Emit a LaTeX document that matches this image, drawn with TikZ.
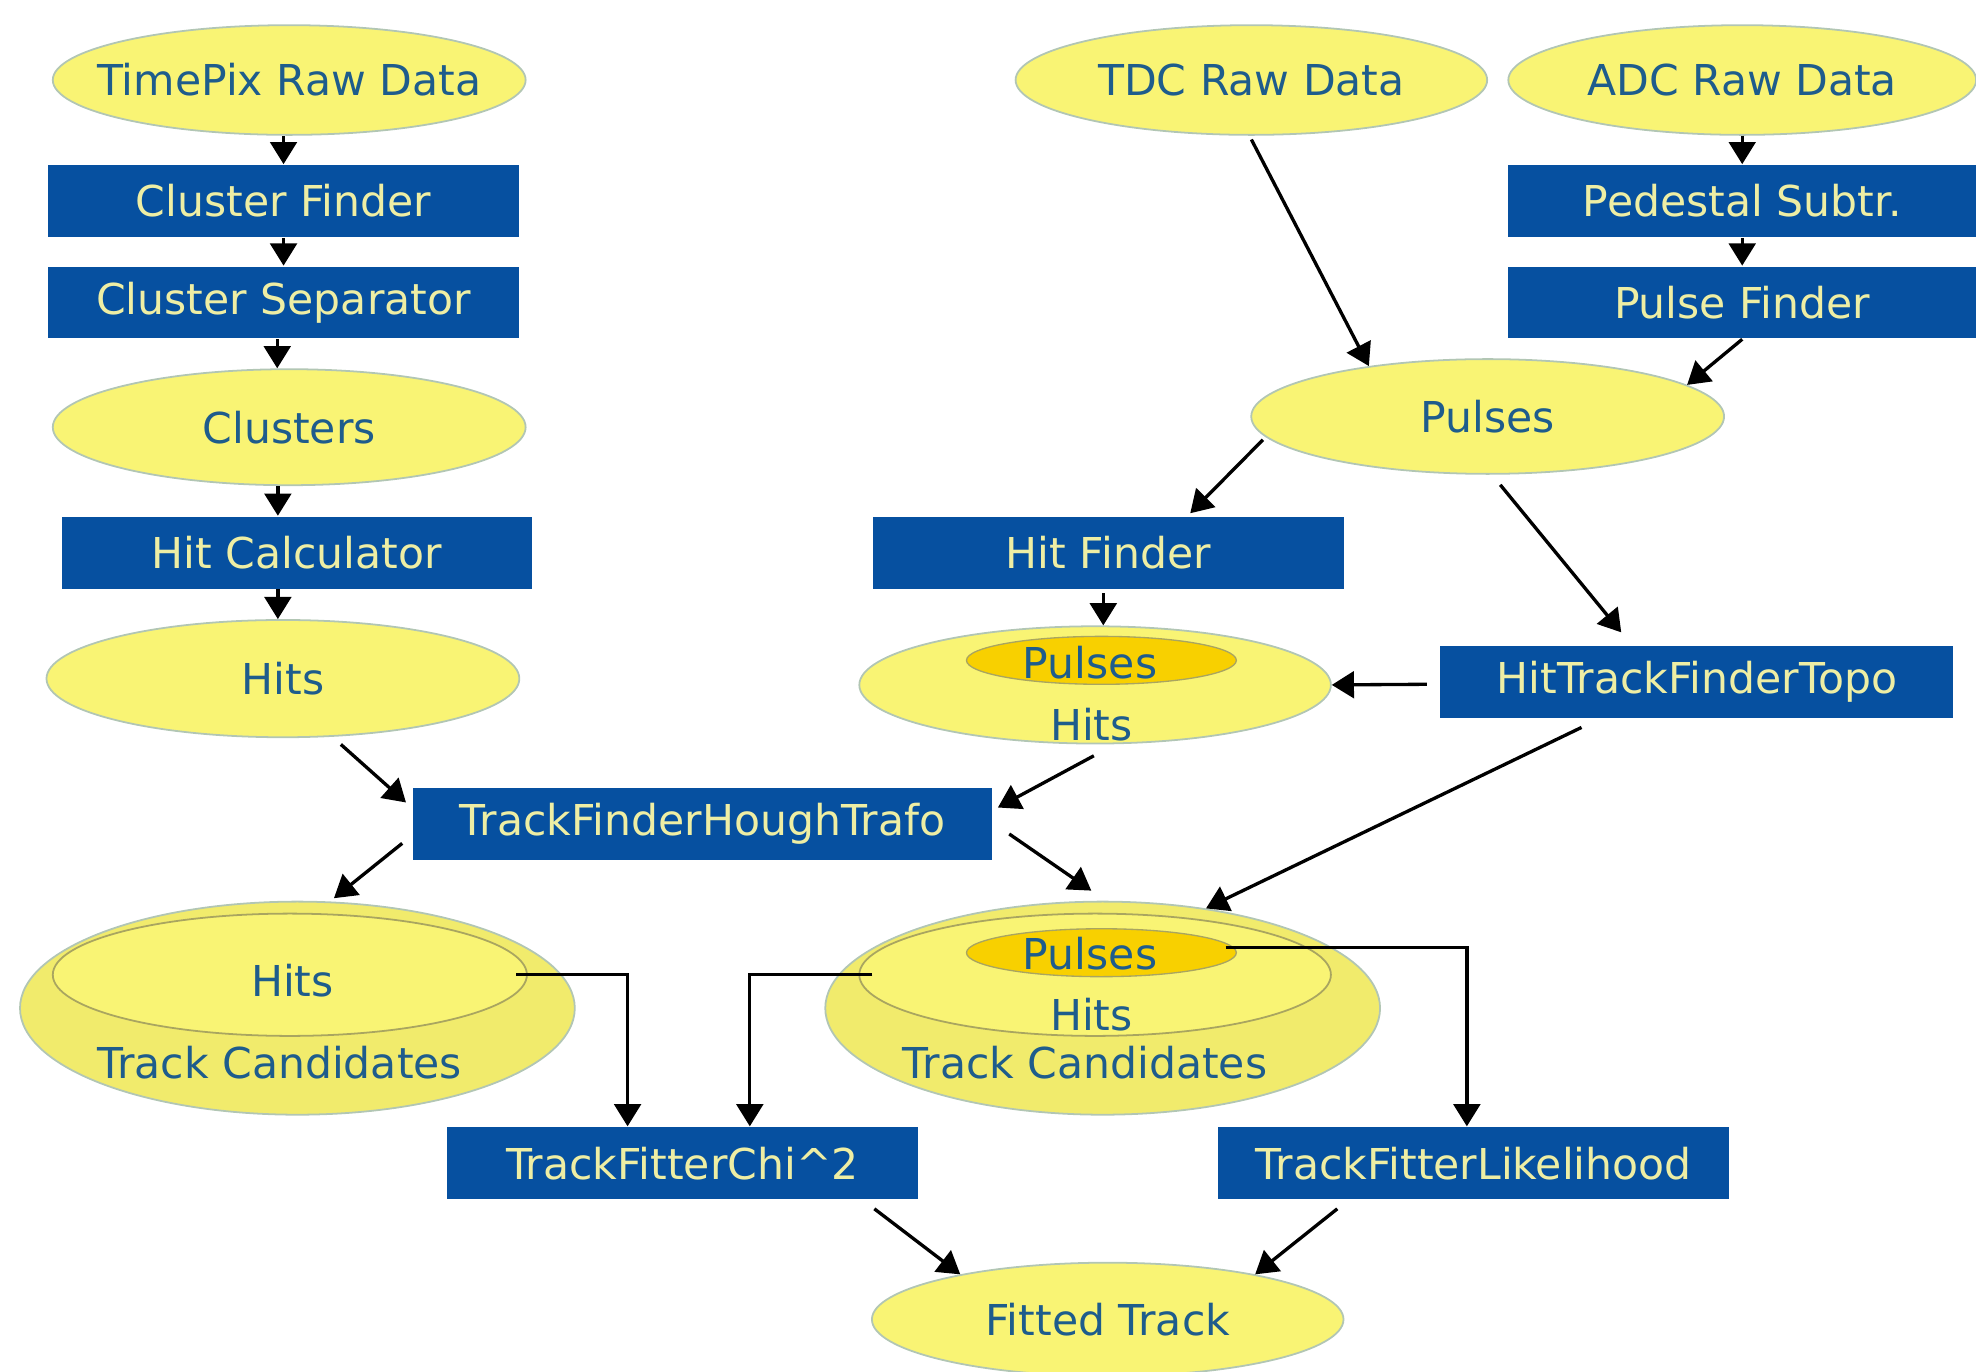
\documentclass[tikz,border=0pt]{standalone}
\usepackage{fontspec}
\setmainfont{DejaVu Sans}
\usetikzlibrary{shapes.geometric,arrows.meta,calc}
\definecolor{boxblue}{HTML}{0650A0}
\definecolor{boxtxt}{HTML}{EEEEA4}
\definecolor{ellfill}{HTML}{F9F474}
\definecolor{elldraw}{HTML}{B2C6B4}
\definecolor{elltxt}{HTML}{1E5C8C}
\definecolor{orangefill}{HTML}{F8D000}
\definecolor{tcfill}{HTML}{F1EB6C}
\definecolor{linegrey}{HTML}{A9A560}
\newcommand{\zw}[1]{\makebox[0pt]{#1}}
\begin{document}
\begin{tikzpicture}[x=0.01cm,y=-0.01cm,
  every node/.style={font=\fontsize{9.6}{11}\selectfont},
  procbox/.style={rectangle, fill=boxblue, text=boxtxt, inner sep=0pt, minimum height=0.57cm},
  ell/.style={ellipse, fill=ellfill, draw=elldraw, line width=0.4pt, text=elltxt, inner sep=0pt},
  tcell/.style={ellipse, fill=tcfill, draw=elldraw, line width=0.4pt, inner sep=0pt},
  innerell/.style={ellipse, fill=ellfill, draw=linegrey, line width=0.4pt, inner sep=0pt},
  orell/.style={ellipse, fill=orangefill, draw=linegrey, line width=0.3pt, inner sep=0pt, minimum width=2.14cm, minimum height=0.38cm},
  elltext/.style={text=elltxt, inner sep=0pt},
  arr/.style={-{Triangle[length=5pt,width=6pt]}, line width=0.75pt, black}]
\useasboundingbox (0,0) rectangle (1568,1088);

% left column
\node[ell, minimum width=3.75cm, minimum height=0.87cm] (timepix) at (229.5,63.5) {\zw{TimePix Raw Data}};
\node[procbox, minimum width=3.74cm] (cf) at (225,159.5) {Cluster Finder};
\node[procbox, minimum width=3.74cm] (cs) at (225,240) {Cluster Separator};
\node[ell, minimum width=3.75cm, minimum height=0.92cm] (clusters) at (229.5,339) {\zw{Clusters}};
\node[procbox, minimum width=3.73cm] (hc) at (235.5,438.5) {Hit Calculator};
\node[ell, minimum width=3.75cm, minimum height=0.93cm] (hitsL) at (224.5,538.5) {\zw{Hits}};

% right top
\node[ell, minimum width=3.74cm, minimum height=0.87cm] (tdc) at (993,63.5) {\zw{TDC Raw Data}};
\node[ell, minimum width=3.71cm, minimum height=0.87cm] (adc) at (1382.5,63.5) {\zw{ADC Raw Data}};
\node[procbox, minimum width=3.71cm] (ped) at (1382.5,159.5) {Pedestal Subtr.};
\node[procbox, minimum width=3.71cm] (pf) at (1382.5,240) {Pulse Finder};
\node[ell, minimum width=3.75cm, minimum height=0.91cm] (pulses) at (1180.5,330.5) {\zw{Pulses}};
\node[procbox, minimum width=3.73cm] (hf) at (879.5,438.5) {Hit Finder};
\node[procbox, minimum width=4.07cm] (htft) at (1346.5,541) {HitTrackFinderTopo};

% pulses/hits
\node[ell, minimum width=3.74cm, minimum height=0.93cm] (ph) at (869,543.5) {};
\node[orell] (phor) at (874,524) {};
\node[elltext] (phpulses) at (865,526) {Pulses};
\node[elltext] (phhits) at (866,575) {Hits};

% middle
\node[procbox, minimum width=4.59cm] (tfh) at (557.5,654) {TrackFinderHoughTrafo};

% left track candidates
\node[tcell, minimum width=4.40cm, minimum height=1.69cm] (tcL) at (236,800) {};
\node[innerell, minimum width=3.76cm, minimum height=0.97cm] (tcLin) at (230,773.5) {};
\node[elltext] (tcLhits) at (232,778) {Hits};
\node[elltext] (tcLtc) at (222,843) {Track Candidates};

% right track candidates
\node[tcell, minimum width=4.40cm, minimum height=1.69cm] (tcR) at (875,800) {};
\node[innerell, minimum width=3.74cm, minimum height=0.97cm] (tcRin) at (869,773.5) {};
\node[orell] (tcRor) at (874,756) {};
\node[elltext] (tcRpulses) at (865,757) {Pulses};
\node[elltext] (tcRhits) at (866,805) {Hits};
\node[elltext] (tcRtc) at (861,843) {Track Candidates};

% fitters
\node[procbox, minimum width=3.73cm] (chi) at (541.5,923) {TrackFitterChi\textasciicircum 2};
\node[procbox, minimum width=4.05cm] (lik) at (1169.5,923) {TrackFitterLikelihood};
\node[ell, minimum width=3.74cm, minimum height=0.90cm] (ft) at (879,1047) {\zw{Fitted Track}};

% connectors left column
\draw[arr] (cf.north |- timepix.south) -- (cf.north);
\draw[arr] (cf.south) -- (cs.north);
\draw[arr] ($(cs.south)+(-5,0)$) -- ($(cs.south |- clusters.north)+(-5,0)$);
\draw[arr] ($(clusters.south)+(-9,0)$) -- ($(clusters.south |- hc.north)+(-9,0)$);
\draw[arr] ($(hitsL.north |- hc.south)+(-4,0)$) -- ($(hitsL.north)+(-4,0)$);

% right column
\draw[arr] (adc.south) -- (adc.south |- ped.north);
\draw[arr] (ped.south) -- (pf.north);
\draw[arr] ($(tdc.south)+(0,3)$) -- (pulses.157);
\draw[arr] (pf.south) -- (pulses.9);
\draw[arr] ($(pulses.185)+(-1,3)$) -- ($(hf.north)+(65,-2)$);
\draw[arr] ($(pulses.south)+(10,8)$) -- ($(htft.north)+(-60,-10)$);
\draw[arr] ($(hf.south)+(-4,3)$) -- ($(hf.south |- ph.north)+(-4,0)$);
\draw[arr] ($(htft.west)+(-10,2)$) -- (ph.east);

% to hough
\draw[arr] ($(hitsL.south)+(46,5)$) -- ($(tfh.north west)+(-5,12)$);
\draw[arr] ($(ph.south)+(-1,9)$) -- ($(tfh.north east)+(4,16)$);
\draw[arr] ($(tfh.south west)+(-8,-14)$) -- ($(tcL.north)+(29,-2)$);
\draw[arr] ($(tfh.north east)+(13,37)$) -- ($(tcR.north)+(-9,-8)$);
\draw[arr] ($(htft.south)+(-91.5,7)$) -- (tcR.44);

% to fitters
\draw[arr] ($(tcLin.east)+(-9,0)$) -| ($(chi.north)+(-43.5,0)$);
\draw[arr] ($(tcRin.west)+(11,0)$) -| ($(chi.north)+(53.5,0)$);
\draw[arr] ($(tcRor.east)+(-9,-4)$) -| ($(lik.north)+(-5.5,0)$);

% to fitted track
\draw[arr] ($(chi.south east)+(-35,7)$) -- (ft.163);
\draw[arr] ($(lik.south west)+(95,7)$) -- (ft.17);
\end{tikzpicture}
\end{document}
